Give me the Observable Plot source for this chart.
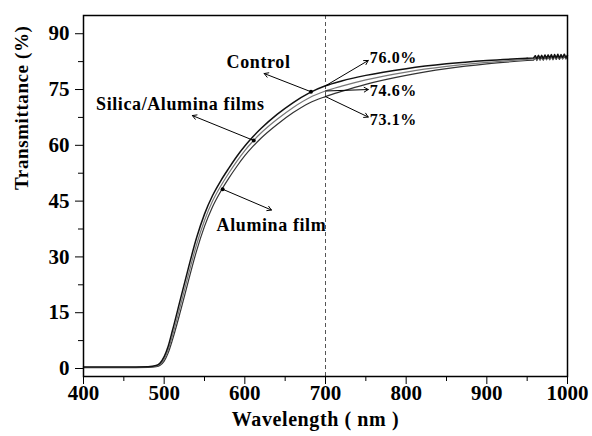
<!DOCTYPE html>
<html><head><meta charset="utf-8">
<script src="https://cdn.jsdelivr.net/npm/d3@7"></script>
<script src="https://cdn.jsdelivr.net/npm/@observablehq/plot@0.6"></script>
<style>
body{margin:0;background:#fff}
g[aria-label="text"] text{letter-spacing:0.6px}
svg text{font-weight:bold}
</style>
</head><body><div id="chart"></div>
<script>
const wavelengths = [400,450,480,490,495,500,505,510,520,530,540,550,560,570,580,590,600,610,620,640,660,680,700,720,750,800,850,900,950];
const control = [0.4,0.4,0.5,0.8,1.5,3.2,6.0,10.0,18.5,27.0,35.0,41.5,46.5,50.4,53.8,57.0,59.8,62.3,64.5,68.3,71.5,74.1,76.0,77.3,78.8,80.6,81.9,82.8,83.4];
const silicaAlumina = [0.3,0.3,0.4,0.6,1.2,2.5,5.0,8.6,16.8,25.2,33.2,39.8,45.0,49.0,52.5,55.7,58.6,61.1,63.3,67.0,70.2,72.8,74.6,75.9,77.6,79.7,81.2,82.3,83.1];
const alumina = [0.2,0.2,0.3,0.5,0.9,2.0,4.2,7.5,15.2,23.5,31.5,38.2,43.5,47.6,51.1,54.3,57.2,59.7,61.9,65.6,68.8,71.4,73.1,74.5,76.4,78.8,80.6,81.9,82.8];
// noisy tail of the spectra
const tailWavelengths = [950,958,960,962,964,966,968,970,972,974,976,978,980,982,984,986,988,990,992,994,996,998,1000];
const controlTail = [83.4,83.5,84.1,83.3,84.2,83.4,84.2,83.3,84.3,83.4,84.3,83.5,84.4,83.4,84.4,83.5,84.5,83.5,84.4,83.6,84.5,83.6,84.2];
const silicaAluminaTail = [83.1,83.2,83.8,83.0,83.9,83.1,83.9,83.1,84.0,83.2,84.0,83.2,84.1,83.2,84.1,83.3,84.1,83.3,84.2,83.3,84.2,83.4,83.9];
const aluminaTail = [82.8,82.9,83.5,82.8,83.6,82.9,83.6,82.9,83.7,83.0,83.7,83.0,83.8,83.0,83.8,83.1,83.9,83.1,83.9,83.2,83.9,83.2,83.6];
const xTicks = [400,500,600,700,800,900,1000];
const xMinor = [450,550,650,750,850,950];
const yTicks = [0,15,30,45,60,75,90];
const yMinor = [7.5,22.5,37.5,52.5,67.5,82.5];
const markerWavelength = 700;
const markerValues = ["76.0%","74.6%","73.1%"];
const markerLevels = [76.0,74.6,73.1];

const toRows = (ws, vals) => ws.map((w,i)=>({w, t: vals[i]}));

const seriesLabels = [
  {text:"Control", x:617, y:82.3, cx:682, cy:74.4, ax:624, ay:79.3},
  {text:"Silica/Alumina films", x:520, y:71.0, cx:611, cy:61.3, ax:535, ay:68.0},
  {text:"Alumina film", x:633, y:38.4, cx:572.5, cy:48.2, ax:633, ay:42.6}
];
const pctLabels = markerValues.map((t,i)=>({text:t, level:markerLevels[i], ly:[83.6,74.7,66.9][i], ay:[82.8,75.0,67.6][i]}));

const font = "'Liberation Serif','Times New Roman',serif";
const series = [
  {main: alumina, tail: aluminaTail, stroke:"#333", w:1.2},
  {main: silicaAlumina, tail: silicaAluminaTail, stroke:"#777", w:1.2},
  {main: control, tail: controlTail, stroke:"#111", w:1.5}
];
const lineMarks = series.flatMap(s => [
  Plot.line(toRows(wavelengths, s.main), {x:"w", y:"t", stroke:s.stroke, strokeWidth:s.w, curve:"monotone-x"}),
  Plot.line(toRows(tailWavelengths, s.tail), {x:"w", y:"t", stroke:s.stroke, strokeWidth:s.w})
]);

const chart = Plot.plot({
  width:592, height:436,
  marginLeft:83, marginRight:25, marginTop:15, marginBottom:60,
  x:{domain:[400,1000]},
  y:{domain:[-2.15,94.9]},
  style:{fontFamily:font, fontWeight:"bold", background:"#fff", color:"#000"},
  marks:[
    Plot.ruleX([markerWavelength], {stroke:"#555", strokeWidth:1, strokeDasharray:"4,3"}),
    ...lineMarks,
    Plot.frame({stroke:"#000", strokeWidth:1.5}),
    Plot.axisX({ticks:xTicks, tickSize:8, tickPadding:1, fontSize:21, fontWeight:"bold", tickFormat:d=>String(d), label:null}),
    Plot.axisX({ticks:xMinor, tickSize:5, tickFormat:()=>"", label:null}),
    Plot.axisY({ticks:yTicks, tickSize:8, tickPadding:6, fontSize:21, fontWeight:"bold", tickFormat:d=>String(d), label:null}),
    Plot.axisY({ticks:yMinor, tickSize:5, tickFormat:()=>"", label:null}),
    Plot.text(["Wavelength ( nm )"], {frameAnchor:"bottom", dy:49, dx:-10, fontSize:20, fontWeight:"bold", fill:"#000"}),
    Plot.text(["Transmittance (%)"], {frameAnchor:"left", rotate:-90, dx:-62, dy:-6, fontSize:19, fontWeight:"bold", fill:"#000"}),
    Plot.arrow(seriesLabels, {x1:"cx", y1:"cy", x2:"ax", y2:"ay", stroke:"#000", strokeWidth:1, headLength:7}),
    Plot.dot(seriesLabels, {x:"cx", y:"cy", r:2, fill:"#000"}),
    Plot.text(seriesLabels, {x:"x", y:"y", text:"text", fontSize:18, fontWeight:"bold", fill:"#000"}),
    Plot.arrow(pctLabels, {x1:()=>markerWavelength, y1:"level", x2:()=>753, y2:"ay", stroke:"#000", strokeWidth:1, headLength:7}),
    Plot.text(pctLabels, {x:()=>755, y:"ly", text:"text", textAnchor:"start", fontSize:16, fontWeight:"bold", fill:"#000"})
  ]
});
document.getElementById("chart").appendChild(chart);
</script></body></html>
